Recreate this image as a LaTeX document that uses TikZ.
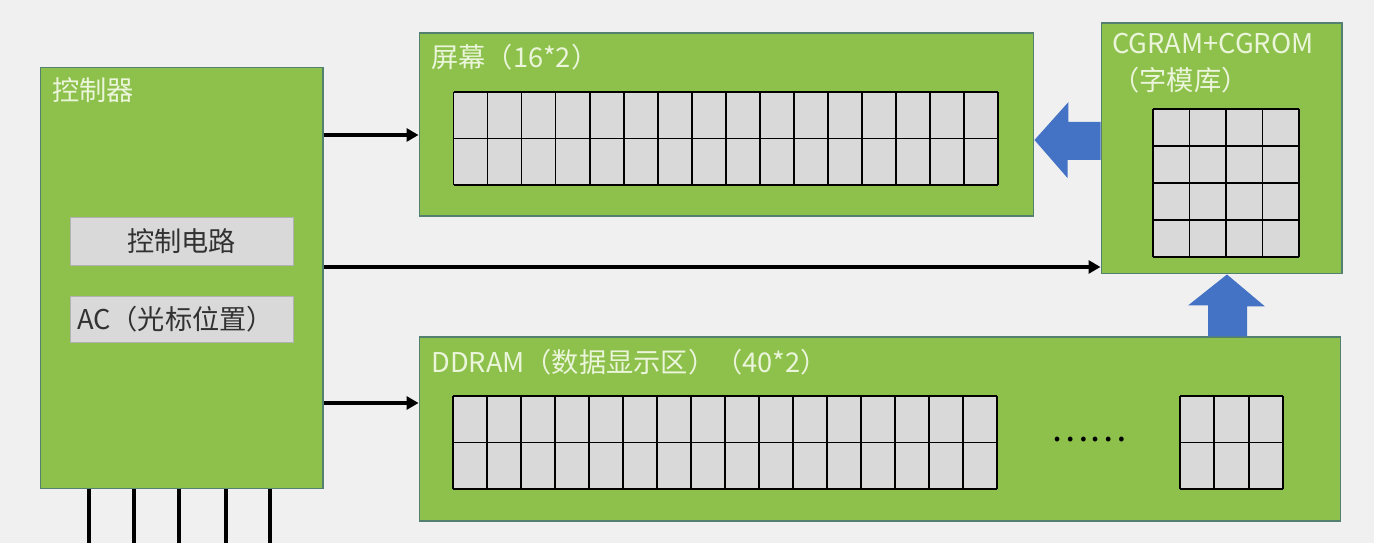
\documentclass[tikz,border=0pt]{standalone}
\usepackage{fontspec}
\newfontfamily\cjk{Noto Sans CJK SC}
\usetikzlibrary{arrows.meta,calc}

\definecolor{bggray}{RGB}{240,240,240}
\definecolor{boxgreen}{RGB}{142,193,76}
\definecolor{boxedge}{RGB}{84,128,112}
\definecolor{cellgray}{RGB}{217,217,217}
\definecolor{labelwhite}{RGB}{234,245,218}
\definecolor{darktext}{RGB}{50,50,50}
\definecolor{arrowblue}{RGB}{68,114,196}

% x0, y0, cols, rows, cell width, cell height
\newcommand{\cellgrid}[6]{%
  \fill[cellgray] (#1,#2) rectangle ++({#3*#5},{#4*#6});
  \foreach \gi in {0,...,#3} \draw[gridline] ({#1+\gi*#5},#2) -- ++(0,{#4*#6});
  \foreach \gj in {0,...,#4} \draw[gridline] (#1,{#2+\gj*#6}) -- ++({#3*#5},0);
}

\begin{document}
\begin{tikzpicture}[x=0.02cm, y=-0.02cm,
  greenbox/.style={draw=boxedge, line width=0.6pt, fill=boxgreen},
  innerbox/.style={draw=gray!60, fill=cellgray, line width=0.5pt,
    font=\cjk\fontsize{15.5}{21}\selectfont, text=darktext},
  boxlabel/.style={font=\cjk\fontsize{15.5}{21}\selectfont, text=labelwhite,
    inner sep=0pt, anchor=west},
  gridline/.style={line width=1pt, black},
  sig/.style={-{Triangle[length=0.24cm,width=0.26cm]}, line width=2pt},
  pinline/.style={line width=2pt},
  blockarrow/.style={fill=arrowblue}]
  \useasboundingbox (0,0) rectangle (1374,543);
  \fill[bggray] (0,0) rectangle (1374,543);

  % controller
  \node[greenbox, minimum width=5.66cm, minimum height=8.44cm] (ctrl) at (181.5,278) {};
  \node[boxlabel] (ctrltitle) at (52,90) {控制器};
  \node[innerbox, minimum width=4.46cm, minimum height=0.96cm] (circ) at (181.5,241) {控制电路};
  \node[innerbox, minimum height=0.92cm, text width=4.18cm, align=left, inner xsep=0.14cm] (acreg) at (181.5,319) {AC（光标位置）};

  % screen
  \node[greenbox, minimum width=12.3cm, minimum height=3.66cm] (screen) at (726.5,124.5) {};
  \node[boxlabel] (screentitle) at (431,57) {屏幕（16*2）};
  \cellgrid{453.5}{92}{16}{2}{34.03}{46.5}

  % font memory
  \node[greenbox, minimum width=4.82cm, minimum height=5.02cm] (cgram) at (1221.5,148.5) {};
  \node[boxlabel, align=left] (cgramtitle) at (1112,63.5) {CGRAM+CGROM\\（字模库）};
  \cellgrid{1153}{109}{4}{4}{36.5}{37}

  % display data ram
  \node[greenbox, minimum width=18.44cm, minimum height=3.68cm] (ddram) at (880,429) {};
  \node[boxlabel] (ddramtitle) at (431,362) {DDRAM（数据显示区）（40*2）};
  \cellgrid{453}{396}{16}{2}{34}{46.5}
  \node[font=\cjk\fontsize{20}{20}\selectfont] (dots) at (1089,440) {……};
  \cellgrid{1180}{396}{3}{2}{34.33}{46.5}

  \draw[sig] (ctrl.east |- 0,135) -- (screen.west |- 0,135);
  \draw[sig] (ctrl.east |- 0,267) -- (cgram.west |- 0,267);
  \draw[sig] (ctrl.east |- 0,403) -- (ddram.west |- 0,403);

  \fill[blockarrow] (screen.east |- 0,140) -- ++(34,-38) -- ++(0,20) -- (cgram.west |- 0,122)
    -- (cgram.west |- 0,160) -- ++(-33,0) -- ++(0,18) -- cycle;
  \fill[blockarrow] (cgram.south -| 1227,0) -- ++(38,32) -- ++(-18,0) -- (ddram.north -| 1247,0)
    -- (ddram.north -| 1208,0) -- ++(0,-31) -- ++(-20,0) -- cycle;

  % pins
  \foreach \px [count=\k] in {89,134,179,226,270} {
    \coordinate (pin\k) at (\px,543);
    \draw[pinline] (pin\k |- ctrl.south) -- (pin\k);
  }
\end{tikzpicture}
\end{document}
